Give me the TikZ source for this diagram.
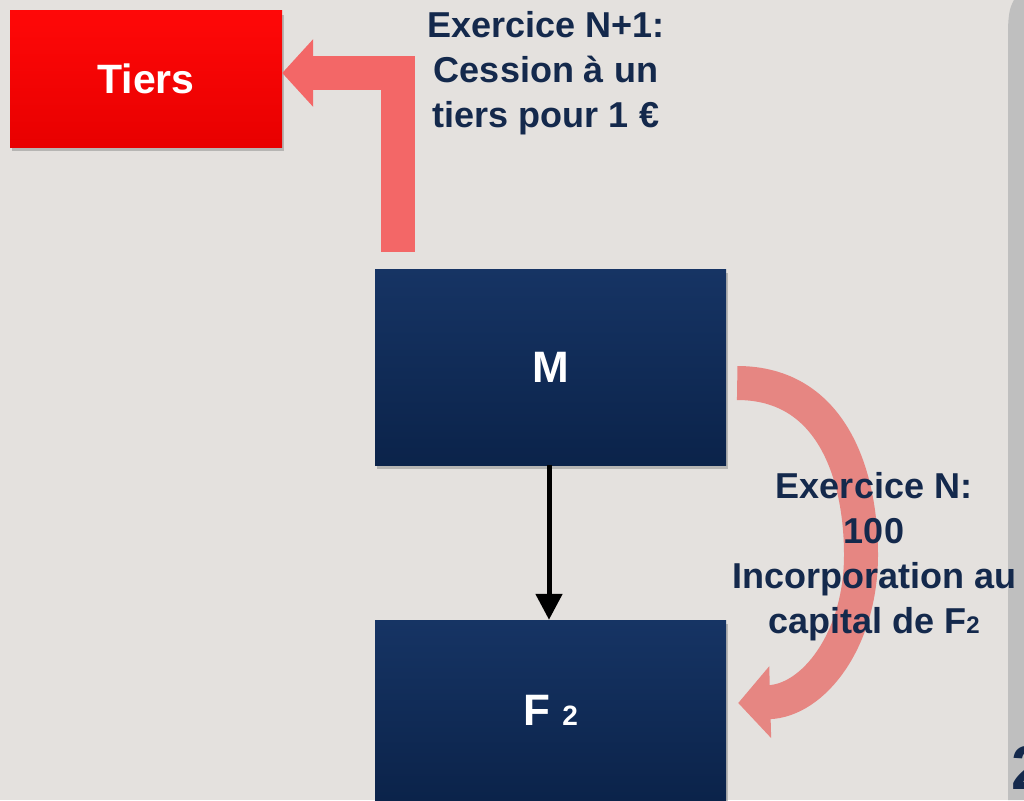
\documentclass[tikz,border=0pt]{standalone}
\usepackage{fontspec}
\setmainfont{Liberation Sans}
\usetikzlibrary{arrows.meta,shadows}
\begin{document}
\begin{tikzpicture}[x=1pt,y=-1pt,
	boite/.style={draw=none,minimum width=351pt,minimum height=196pt,text=white,
		font=\bfseries\fontsize{44}{44}\selectfont,top color=bleuhaut,bottom color=bleubas,
		drop shadow={opacity=0.45,shadow xshift=2pt,shadow yshift=-4pt}},
	texte/.style={text=bleutexte,align=center,font=\bfseries\fontsize{36}{45}\selectfont},
	fleche/.style={line width=34pt,-{Triangle[width=66pt,length=31pt]}}]
	\definecolor{fond}{RGB}{228,225,222}
	\definecolor{barre}{RGB}{191,191,191}
	\definecolor{bleuhaut}{RGB}{22,52,100}
	\definecolor{bleubas}{RGB}{11,35,74}
	\definecolor{bleutexte}{RGB}{20,41,76}
	\definecolor{rouge}{RGB}{255,8,8}
	\definecolor{rougebas}{RGB}{232,0,0}
	\definecolor{rosefleche}{RGB}{243,103,103}
	\definecolor{rosecourbe}{RGB}{230,134,130}
	
	\fill[fond] (0,0) rectangle (1024,800);
	\useasboundingbox (0,0) rectangle (1024,800);
	\clip (0,0) rectangle (1024,800);
	%Barre grise a droite
	\fill[barre] (1024,0) -- (1014,0) .. controls (1009,8) and (1008,18) .. (1008,35) -- (1008,800) -- (1024,800) -- cycle;
	\node[anchor=west,text=bleutexte,font=\bfseries\fontsize{62}{62}\selectfont,inner sep=0pt] (deux) at (1011,768) {2};
	
	%Boites
	\node[boite,minimum width=272pt,minimum height=136pt,top color=rouge,bottom color=rougebas,
		font=\bfseries\fontsize{41}{41}\selectfont] (tiers) at (146,79) {Tiers};
	\node[boite] (mere) at (550.5,367) {M};
	\node[boite,minimum height=180pt] (fille) at (550.5,710) {F {\fontsize{28}{28}\selectfont 2}};
	
	%Fleches
	\draw[line width=5pt,-{Triangle[width=26pt,length=26pt]}] ([xshift=-1.5pt]mere.south) -- ([xshift=-1.5pt]fille.north);
	\draw[fleche,draw=rosefleche] ([shift={(-152.5,-17)}]mere.north) |- ([yshift=6pt]tiers.east);
	\coordinate (virage) at (861,555);
	\draw[fleche,draw=rosecourbe,line width=34pt,-{Triangle[width=70pt,length=32pt]}]
		([shift={(11,16)}]mere.east) .. controls +(95,0) and +(0,-80) .. (virage)
		.. controls +(0,85) and +(75,-2) .. ([shift={(12,-7)}]fille.east);
	
	%Textes
	\node[texte] (cession) at (546,73) {Exercice N+1:\\Cession à un\\tiers pour 1 €};
	\node[texte] (incorp) at (874,557) {Exercice N:\\100\\Incorporation au\\capital de F{\fontsize{24}{24}\selectfont 2}};
\end{tikzpicture}
\end{document}
